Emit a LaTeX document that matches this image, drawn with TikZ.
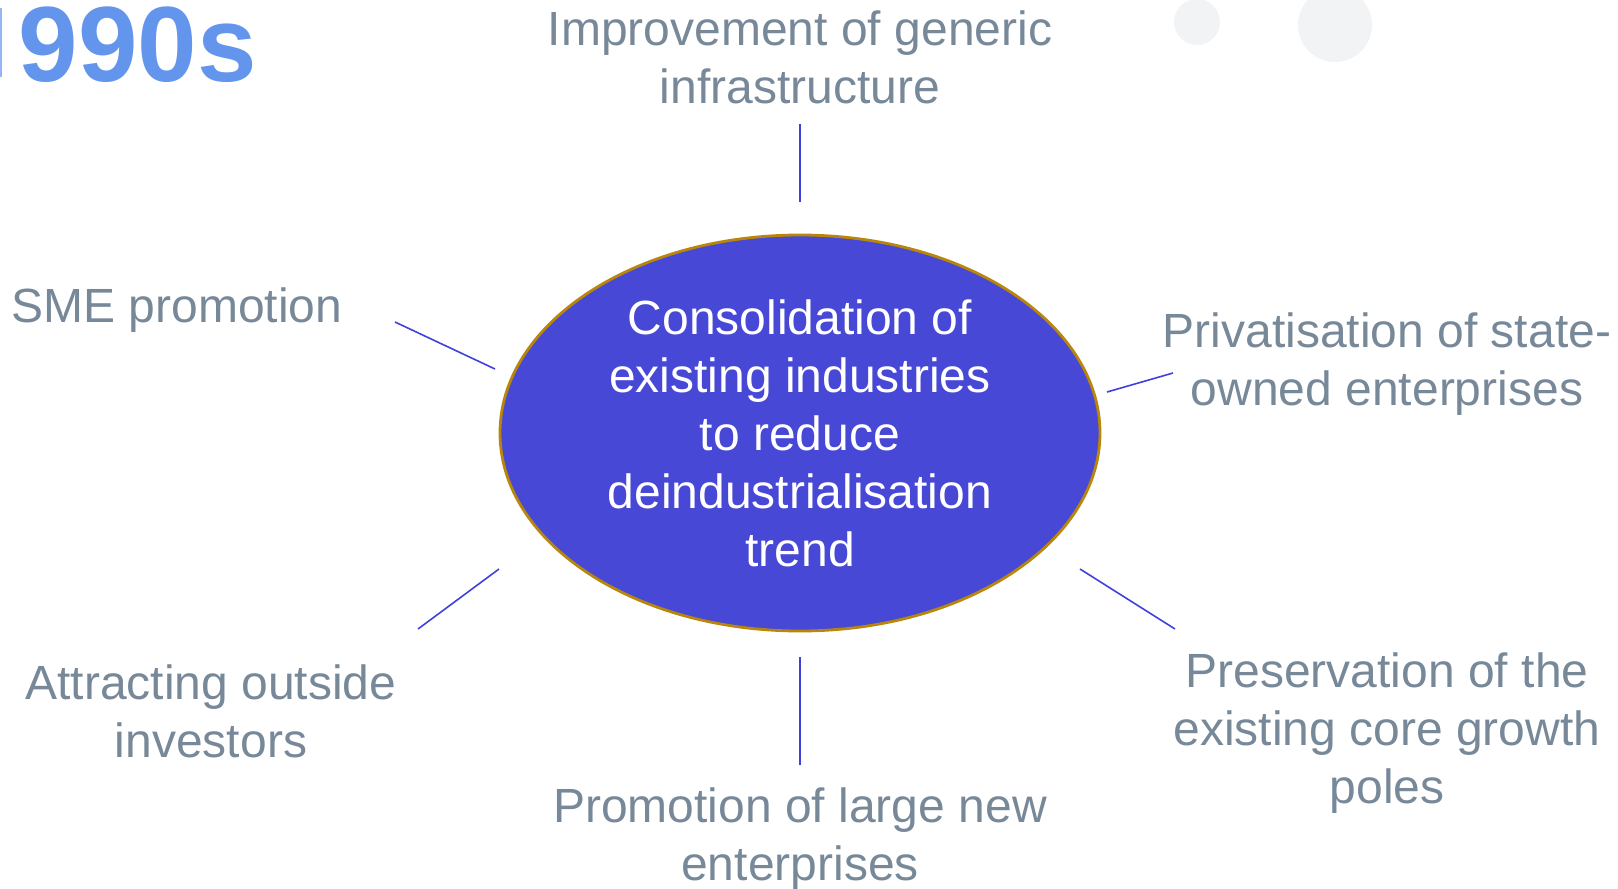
\documentclass[tikz,border=0pt]{standalone}
\usepackage{fontspec}
\setmainfont{Liberation Sans}
\usetikzlibrary{shapes.geometric}
\definecolor{hubblue}{HTML}{4848D6}
\definecolor{hubrim}{HTML}{B8860B}
\definecolor{linkblue}{HTML}{4040DD}
\definecolor{labelgray}{HTML}{778899}
\definecolor{yearblue}{HTML}{6495ED}
\definecolor{dotgray}{HTML}{F2F3F5}
\tikzset{
  label text/.style={text=labelgray,align=center,inner sep=0pt,
    font=\fontsize{24}{29}\selectfont},
  link/.style={draw=linkblue,line width=0.8pt},
}

\begin{document}
\begin{tikzpicture}[x=0.5pt,y=-0.5pt]
        \path[use as bounding box] (0,0) rectangle (1618,889) ;
        % faint dots top right
        \fill[dotgray] (1197,22) circle (23) ;
        \fill[dotgray] (1335,25) circle (37) ;
        % year heading, its first digit cut by the edge
        \fill[yearblue!70] (0,8) rectangle (2,77) ;
        \node[anchor=base east,inner sep=0pt,text=yearblue,text height=0.72em,text depth=0pt,
          font=\fontsize{53.5}{60}\selectfont\bfseries] (year) at (257,81) {990s} ;
        \node[ellipse,draw=hubrim,line width=1.4pt,fill=hubblue,text=white,
          minimum width=300pt,minimum height=198pt,inner sep=0pt,align=center,
          font=\fontsize{24}{29}\selectfont] (hub) at (800,433)
          {Consolidation of\\existing industries\\to reduce\\deindustrialisation\\trend} ;
        \node[label text] (infra) at (800,57) {Improvement of generic\\infrastructure} ;
        \node[label text] (sme) at (177,310) {SME promotion} ;
        \node[label text] (priv) at (1387,364) {Privatisation of state-\\owned enterprises} ;
        \node[label text] (attr) at (211,711) {Attracting outside\\investors} ;
        \node[label text] (pres) at (1387,733) {Preservation of the\\existing core growth\\poles} ;
        \node[label text] (large) at (800,839) {Promotion of large new\\enterprises} ;
        % connector ends
        \coordinate (infra-a) at (800,124) ; \coordinate (infra-b) at (800,202) ;
        \coordinate (sme-a) at (395,322) ; \coordinate (sme-b) at (495,369) ;
        \coordinate (priv-a) at (1173,373) ; \coordinate (priv-b) at (1107,392) ;
        \coordinate (attr-a) at (418,629) ; \coordinate (attr-b) at (499,569) ;
        \coordinate (pres-a) at (1175,629) ; \coordinate (pres-b) at (1080,569) ;
        \coordinate (large-a) at (800,765) ; \coordinate (large-b) at (800,657) ;
        \foreach \n in {infra,sme,priv,attr,pres,large}
          \draw[link] (\n-a) -- (\n-b) ;
      \end{tikzpicture}
\end{document}
